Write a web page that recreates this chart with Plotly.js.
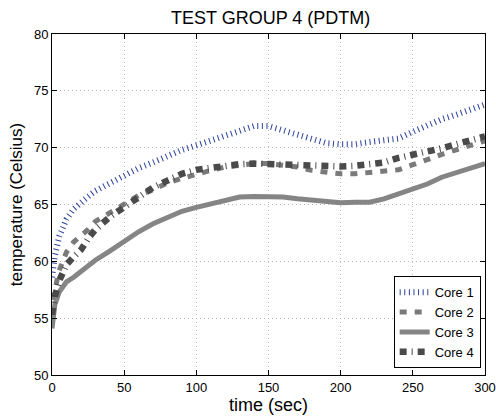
<!DOCTYPE html>
<html>
<head>
<meta charset="utf-8">
<script src="https://cdn.plot.ly/plotly-3.0.1.min.js"></script>
<style>html,body{margin:0;padding:0;background:#fff;}#chart{width:496px;height:420px;}</style>
</head>
<body>
<div id="chart"></div>
<script>
// time (sec)
const timeSec = [0, 2, 5, 10, 15, 20, 25, 30, 40, 50, 60, 70, 80, 90, 100, 110, 120, 130, 140, 150, 160, 170, 180, 190, 200, 210, 220, 230, 240, 250, 260, 270, 280, 290, 300];
const core1 = [58.6, 60.5, 62.2, 63.7, 64.6, 65.2, 65.7, 66.2, 66.9, 67.6, 68.2, 68.7, 69.3, 69.8, 70.2, 70.6, 71.0, 71.5, 71.9, 71.9, 71.5, 71.1, 70.7, 70.4, 70.3, 70.3, 70.5, 70.7, 70.8, 71.4, 72.0, 72.5, 72.9, 73.3, 73.8];
const core2 = [55.3, 57.5, 59.2, 60.8, 61.7, 62.2, 62.8, 63.5, 64.3, 65.1, 65.8, 66.3, 66.9, 67.3, 67.7, 68.0, 68.3, 68.5, 68.6, 68.6, 68.5, 68.3, 68.0, 67.8, 67.7, 67.7, 67.8, 68.0, 68.05, 68.5, 69.0, 69.4, 69.8, 70.2, 70.6];
const core3 = [54.1, 56.2, 57.3, 58.2, 58.6, 59.1, 59.6, 60.1, 60.9, 61.8, 62.6, 63.3, 63.9, 64.4, 64.75, 65.05, 65.4, 65.65, 65.7, 65.7, 65.65, 65.5, 65.35, 65.25, 65.15, 65.2, 65.2, 65.5, 65.95, 66.4, 66.8, 67.4, 67.8, 68.2, 68.6];
const core4 = [55.3, 56.9, 58.3, 59.7, 60.4, 61.0, 62.0, 62.8, 63.9, 64.8, 65.7, 66.5, 67.1, 67.7, 68.05, 68.25, 68.4, 68.55, 68.6, 68.55, 68.6, 68.5, 68.4, 68.4, 68.35, 68.4, 68.5, 68.7, 69.1, 69.35, 69.65, 69.95, 70.3, 70.7, 71.0];
const seriesNames = ['Core 1', 'Core 2', 'Core 3', 'Core 4'];
const xTicks = [0, 50, 100, 150, 200, 250, 300];
const yTicks = [50, 55, 60, 65, 70, 75, 80];

const FONT = 'Liberation Sans, Arial, Helvetica, sans-serif';
const styles = [
  {color: '#2b3f9a', width: 6, dash: '1px,3.6px'},
  {color: '#7a7a7a', width: 5, dash: '7px,8px'},
  {color: '#858585', width: 5, dash: 'solid'},
  {color: '#4a4a4a', width: 6.5, dash: '7px,5px,1px,5px'}
];
const ys = [core1, core2, core3, core4];
const traces = ys.map((y, i) => ({
  x: timeSec, y: y, type: 'scatter', mode: 'lines', name: seriesNames[i],
  line: {color: styles[i].color, width: styles[i].width, dash: styles[i].dash}
}));

const axisCommon = {
  showline: true, linecolor: '#000', linewidth: 1, mirror: 'ticks',
  ticks: 'inside', ticklen: 5, tickcolor: '#000', tickwidth: 1,
  showgrid: true, gridcolor: '#b8b8b8', gridwidth: 1, griddash: '1px,3px',
  zeroline: false, tickfont: {family: FONT, size: 13, color: '#000'}
};

const layout = {
  width: 496, height: 420,
  margin: {l: 52, r: 11, t: 34, b: 45},
  paper_bgcolor: '#fff', plot_bgcolor: '#fff',
  font: {family: FONT, color: '#000'},
  title: {text: 'TEST GROUP 4 (PDTM)', font: {family: FONT, size: 18, color: '#000'},
          x: 0.505, xref: 'paper', xanchor: 'center', y: 0.958, yref: 'container', yanchor: 'middle'},
  xaxis: Object.assign({}, axisCommon, {
    range: [0, 300], tickvals: xTicks, ticktext: xTicks.map(String), automargin: 'bottom',
    title: {text: 'time (sec)', font: {family: FONT, size: 18, color: '#000'}, standoff: 0}
  }),
  yaxis: Object.assign({}, axisCommon, {
    range: [50, 80], tickvals: yTicks, ticktext: yTicks.map(String),
    title: {text: 'temperature (Celsius)', font: {family: FONT, size: 17, color: '#000'}, standoff: 6}
  }),
  showlegend: true,
  legend: {
    x: 0.99, y: 0.02, xanchor: 'right', yanchor: 'bottom',
    bgcolor: '#fff', bordercolor: '#000', borderwidth: 1,
    font: {family: FONT, size: 13, color: '#000'},
    tracegroupgap: 0
  }
};

Plotly.newPlot('chart', traces, layout, {staticPlot: true, displayModeBar: false});
</script>
</body>
</html>
